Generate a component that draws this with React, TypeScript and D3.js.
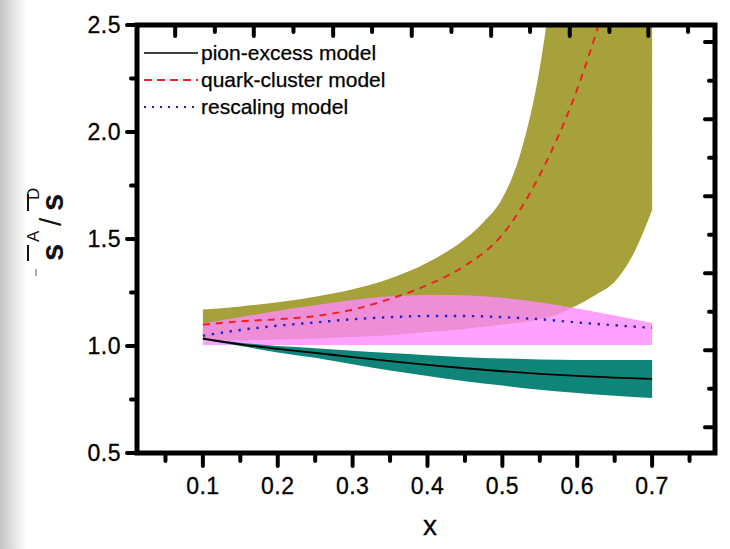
import React from 'react';
import * as d3 from 'd3';

const W = 730;
const H = 549;
const PL = 137, PR = 715, PT = 25, PB = 453;

const xDomain = [0.012, 0.784];
const yDomain = [0.5, 2.5];

const xMajorTicks = [0.1, 0.2, 0.3, 0.4, 0.5, 0.6, 0.7];
const xTickLabels = ['0.1', '0.2', '0.3', '0.4', '0.5', '0.6', '0.7'];
const xMinorTicks = [0.05, 0.15, 0.25, 0.35, 0.45, 0.55, 0.65, 0.75];
const yMajorTicks = [0.5, 1.0, 1.5, 2.0, 2.5];
const yTickLabels = ['0.5', '1.0', '1.5', '2.0', '2.5'];
const yMinorTicks = [0.75, 1.25, 1.75, 2.25];
const topTicks = [0.063, 0.116, 0.168, 0.221, 0.274, 0.326, 0.379, 0.432, 0.485, 0.537, 0.59, 0.643, 0.695, 0.748];
const rightTicks = [2.42, 2.24, 2.06, 1.88, 1.7, 1.52, 1.34, 1.16, 0.98, 0.8, 0.62];

// common x grid
const xs = [0.1, 0.15, 0.2, 0.25, 0.3, 0.35, 0.4, 0.45, 0.5, 0.55, 0.6, 0.65, 0.7];

// pion-excess model (teal band + black line)
const pionUpper = [1.035, 1.015, 1.0, 0.99, 0.978, 0.967, 0.957, 0.948, 0.942, 0.937, 0.935, 0.935, 0.935];
const pionLower = [1.03, 1.0, 0.97, 0.945, 0.915, 0.885, 0.86, 0.835, 0.815, 0.795, 0.78, 0.767, 0.757];
const pionCentral = [1.035, 1.008, 0.987, 0.968, 0.948, 0.929, 0.912, 0.896, 0.882, 0.87, 0.86, 0.852, 0.846];

// rescaling model (pink band + blue dotted)
const rescUpper = [1.105, 1.135, 1.165, 1.19, 1.215, 1.232, 1.24, 1.237, 1.225, 1.205, 1.175, 1.142, 1.107];
const rescLower = [1.005, 1.005, 1.005, 1.005, 1.005, 1.005, 1.005, 1.005, 1.005, 1.005, 1.005, 1.005, 1.005];
const rescCentral = [1.048, 1.075, 1.095, 1.11, 1.125, 1.135, 1.14, 1.14, 1.135, 1.125, 1.11, 1.097, 1.085];

// quark-cluster model (olive band + red dashed)
const quarkX = [0.1, 0.15, 0.2, 0.25, 0.3, 0.35, 0.4, 0.45, 0.475, 0.5, 0.525, 0.55, 0.575, 0.6, 0.625, 0.65, 0.675, 0.7];
const quarkUpper = [1.17, 1.185, 1.205, 1.23, 1.265, 1.315, 1.39, 1.5, 1.58, 1.69, 1.91, 2.3, 2.95, 3.8, 4.5, 5.1, 5.6, 6.0];
const quarkLower = [1.025, 1.027, 1.03, 1.035, 1.042, 1.05, 1.065, 1.08, 1.09, 1.1, 1.11, 1.125, 1.15, 1.19, 1.24, 1.3, 1.43, 1.635];
const quarkCentralX = [0.1, 0.15, 0.2, 0.25, 0.3, 0.35, 0.4, 0.45, 0.5, 0.55, 0.6, 0.65];
const quarkCentral = [1.1, 1.115, 1.125, 1.14, 1.17, 1.22, 1.285, 1.375, 1.52, 1.8, 2.2, 2.75];

const legendLabels = ['pion-excess model', 'quark-cluster model', 'rescaling model'];

const FONT = '"Liberation Sans", Arial, Helvetica, sans-serif';

export default function App() {
  const x = d3.scaleLinear().domain(xDomain).range([PL, PR]);
  const y = d3.scaleLinear().domain(yDomain).range([PB, PT]);

  const band = (xv: number[], lo: number[], hi: number[]) =>
    d3.area<number>()
      .x((_, i) => x(xv[i]))
      .y0((_, i) => y(lo[i]))
      .y1((_, i) => y(hi[i]))
      .curve(d3.curveMonotoneX)(xv) || '';
  const line = (xv: number[], v: number[]) =>
    d3.line<number>()
      .x((_, i) => x(xv[i]))
      .y((_, i) => y(v[i]))
      .curve(d3.curveMonotoneX)(xv) || '';

  const legendY = [53, 80, 107];
  const legendStyles = [
    { stroke: '#000', dash: undefined, w: 1.6 },
    { stroke: '#e8242a', dash: '8,5', w: 1.8 },
    { stroke: '#2020c0', dash: '2,6', w: 2 },
  ];

  const cx = 63, cy = 272;

  return (
    <div style={{ position: 'absolute', left: 0, top: 0, width: W, height: H, background: '#fff' }}>
      <svg width={W} height={H} style={{ display: 'block' }} fontFamily={FONT}>
        <defs>
          <linearGradient id="edge" x1="0" x2="1" y1="0" y2="0">
            <stop offset="0" stopColor="#c4c4c4" />
            <stop offset="0.45" stopColor="#dedede" />
            <stop offset="1" stopColor="#ffffff" />
          </linearGradient>
          <clipPath id="plot">
            <rect x={PL} y={PT} width={PR - PL} height={PB - PT} />
          </clipPath>
        </defs>
        <rect x={0} y={0} width={W} height={H} fill="#fff" />
        <rect x={0} y={0} width={26} height={H} fill="url(#edge)" />

        <g clipPath="url(#plot)">
          <path d={band(quarkX, quarkLower, quarkUpper)} fill="#a6a13a" />
          <path d={band(xs, rescLower, rescUpper)} fill="#ff8aff" fillOpacity={0.8} />
          <path d={band(xs, pionLower, pionUpper)} fill="#0e8578" />
          <path d={line(xs, pionCentral)} fill="none" stroke="#000" strokeWidth={1.8} />
          <path d={line(quarkCentralX, quarkCentral)} fill="none" stroke="#ee2222" strokeWidth={2} strokeDasharray="7,6" />
          <path d={line(xs, rescCentral)} fill="none" stroke="#2222cc" strokeWidth={2.4} strokeDasharray="2.4,6.6" />
        </g>

        {legendLabels.map((lab, i) => (
          <g key={lab}>
            <line x1={144} x2={198} y1={legendY[i]} y2={legendY[i]} stroke={legendStyles[i].stroke}
              strokeWidth={legendStyles[i].w} strokeDasharray={legendStyles[i].dash} />
            <text x={201} y={legendY[i] + 7} fontSize={21} fill="#000" stroke="#000" strokeWidth={0.25}>{lab}</text>
          </g>
        ))}

        <rect x={PL} y={PT} width={PR - PL} height={PB - PT} fill="none" stroke="#000" strokeWidth={5} />

        {xMajorTicks.map((t, i) => (
          <g key={'xm' + t}>
            <line x1={x(t)} x2={x(t)} y1={PB} y2={PB + 13} stroke="#000" strokeWidth={4} strokeLinecap="round" />
            <text x={x(t)} y={PB + 41} fontSize={23} textAnchor="middle" fill="#000" stroke="#000" strokeWidth={0.3} letterSpacing={0.5}>{xTickLabels[i]}</text>
          </g>
        ))}
        {xMinorTicks.map(t => (
          <line key={'xn' + t} x1={x(t)} x2={x(t)} y1={PB} y2={PB + 8} stroke="#000" strokeWidth={4} strokeLinecap="round" />
        ))}
        {topTicks.map((t, i) => (
          <line key={'tt' + i} x1={x(t)} x2={x(t)} y1={PT} y2={PT + (i % 2 === 0 ? 11 : 7)} stroke="#000" strokeWidth={4} strokeLinecap="round" />
        ))}
        {yMajorTicks.map((t, i) => (
          <g key={'ym' + t}>
            <line x1={PL} x2={PL - 10} y1={y(t)} y2={y(t)} stroke="#000" strokeWidth={4} strokeLinecap="round" />
            <text x={121} y={y(t) + 8} fontSize={23} textAnchor="end" fill="#000" stroke="#000" strokeWidth={0.3} letterSpacing={0.5}>{yTickLabels[i]}</text>
          </g>
        ))}
        {yMinorTicks.map(t => (
          <line key={'yn' + t} x1={PL} x2={PL - 6} y1={y(t)} y2={y(t)} stroke="#000" strokeWidth={4} strokeLinecap="round" />
        ))}
        {rightTicks.map((t, i) => (
          <line key={'rt' + i} x1={PR} x2={PR - (i % 2 === 0 ? 10 : 6)} y1={y(t)} y2={y(t)} stroke="#000" strokeWidth={4} strokeLinecap="round" />
        ))}

        <text x={(PL + PR) / 2 + 4} y={535} fontSize={28} textAnchor="middle" fill="#000" stroke="#000" strokeWidth={0.3}>x</text>

        <g transform={`translate(${cx},${cy}) rotate(-90)`} fill="#111">
          <line x1={-4} x2={3} y1={-27} y2={-27} stroke="#777" strokeWidth={1.2} />
          <text x={11} y={0} fontSize={31} fontWeight="bold">s</text>
          <line x1={11} x2={27} y1={-35} y2={-35} stroke="#111" strokeWidth={2} />
          <text x={30} y={-24} fontSize={17}>A</text>
          <text x={46} y={-2} fontSize={30}>/</text>
          <text x={61} y={0} fontSize={31} fontWeight="bold">s</text>
          <line x1={61} x2={78} y1={-35} y2={-35} stroke="#111" strokeWidth={2} />
          <text x={72} y={-24} fontSize={17}>D</text>
        </g>
      </svg>
    </div>
  );
}
